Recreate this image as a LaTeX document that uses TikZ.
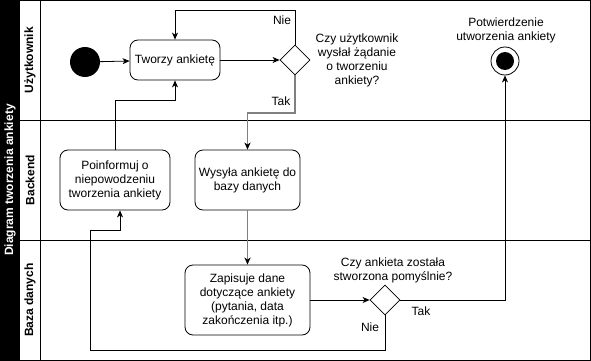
\documentclass[tikz,border=0pt]{standalone}
\usepackage{fontspec}
\setmainfont{Liberation Sans}
\usetikzlibrary{arrows.meta,shapes.geometric}
\definecolor{flowgrey}{HTML}{808080}
\begin{document}
\begin{tikzpicture}[x=1pt,y=-1pt,
  every node/.style={font=\fontsize{12}{14}\selectfont},
  action/.style={draw,rounded corners=8pt,align=center,inner sep=2pt,line width=0.8pt},
  decision/.style={draw,diamond,minimum width=30pt,minimum height=30pt,inner sep=0pt,line width=0.8pt},
  lanelabel/.style={rotate=90,font=\fontsize{12}{14}\selectfont\bfseries},
  plain/.style={align=center,inner sep=0pt},
  flow/.style={line width=0.8pt,-{Stealth[length=7pt,width=6pt,inset=2pt]}},
  greyflow/.style={flow,draw=flowgrey,line width=1.6pt,-{Stealth[length=7pt,width=6pt,inset=2pt,color=black]}}
]
\useasboundingbox (0,0) rectangle (591,361);

% pool frame, title band and lane dividers
\fill (0,0) rectangle (20,360.5);
\draw[line width=0.8pt] (0.5,0.5) rectangle (590,360);
\draw[line width=0.8pt] (40,0.5) -- (40,360);
\draw[line width=0.8pt] (20,120) -- (590,120);
\draw[line width=0.8pt] (20,240) -- (590,240);
\node[lanelabel,text=white] (title) at (10,180) {Diagram tworzenia ankiety};
\node[lanelabel] (laneU) at (30,60) {Użytkownik};
\node[lanelabel] (laneB) at (30,180) {Backend};
\node[lanelabel] (laneD) at (30,300) {Baza danych};

% nodes
\node[circle,fill=black,minimum size=30pt,inner sep=0pt] (start) at (85,62) {};
\node[action,minimum width=90pt,minimum height=40pt] (tworzy) at (175,60) {Tworzy ankietę};
\node[decision] (d1) at (295,60) {};
\node[plain] (q1) at (357,60) {Czy użytkownik\\wysłał żądanie\\o tworzeniu\\ankiety?};
\node[circle,draw,line width=0.8pt,minimum size=28pt,inner sep=0pt] (end) at (505,61) {};
\node[circle,fill=black,minimum size=18pt,inner sep=0pt] (endin) at (end) {};
\node[plain] (endlbl) at (506,30) {Potwierdzenie\\utworzenia ankiety};

\node[action,minimum width=110pt,minimum height=60pt] (poinf) at (115,180) {Poinformuj o\\niepowodzeniu\\tworzenia ankiety};
\node[action,minimum width=105pt,minimum height=60pt] (wysyla) at (247.5,180) {Wysyła ankietę do\\bazy danych};

\node[action,minimum width=125pt,minimum height=70pt] (zapis) at (247.5,300) {Zapisuje dane\\dotyczące ankiety\\(pytania, data\\zakończenia itp.)};
\node[decision] (d2) at (385,300) {};
\node[plain] (q2) at (393,270) {Czy ankieta została\\stworzona pomyślnie?};

% connectors
\draw[flow] (start) -- (tworzy);
\draw[flow] (tworzy) -- (d1);
\draw[flow] (d1.north) |- (175,10) -- (tworzy.north);
\draw[greyflow] (d1.south) |- (247.5,113) -- (wysyla.north);
\draw[flow] (poinf.north) |- (175,100) -- (tworzy.south);
\draw[greyflow] (wysyla) -- (zapis);
\draw[flow] (zapis) -- (d2);
\draw[flow] (d2.east) -| (end.south);
\draw[flow] (d2.south) |- (90,350) |- (120,230) -- ([xshift=5pt]poinf.south);

% branch labels
\node[plain] (nie1) at (282,20) {Nie};
\node[plain] (tak1) at (281,101) {Tak};
\node[plain] (tak2) at (421,311) {Tak};
\node[plain] (nie2) at (370,327) {Nie};
\end{tikzpicture}
\end{document}
